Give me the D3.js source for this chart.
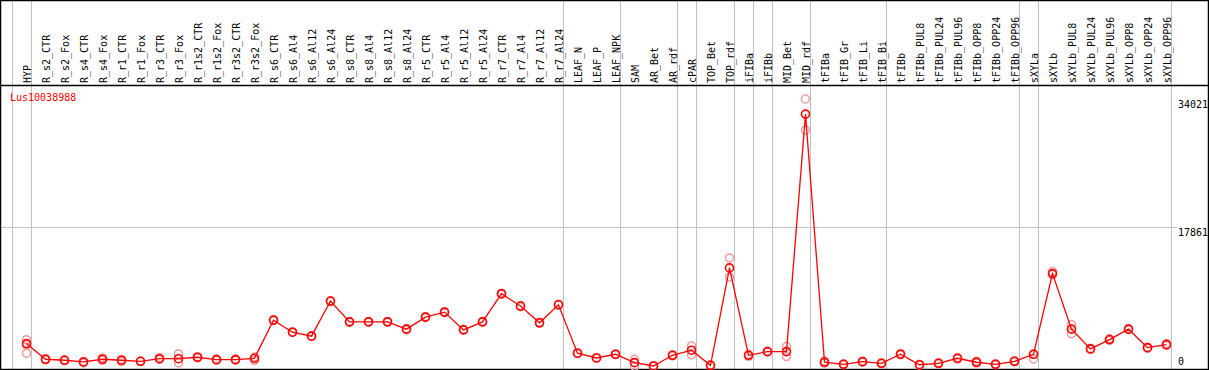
<!DOCTYPE html>
<html>
<head>
<meta charset="utf-8">
<script src="https://cdn.jsdelivr.net/npm/d3@7"></script>
<style>
    html, body { margin: 0; padding: 0; background: #fff; }
    svg { display: block; font-family: "DejaVu Sans Mono", monospace; font-size: 10px; }
</style>
</head>
<body>
<div id="chart"></div>
<script>
    const geneName = 'Lus10038988';

    const samples = ['HYP', 'R_s2_CTR', 'R_s2_Fox', 'R_s4_CTR', 'R_s4_Fox', 'R_r1_CTR', 'R_r1_Fox',
        'R_r3_CTR', 'R_r3_Fox', 'R_r1s2_CTR', 'R_r1s2_Fox', 'R_r3s2_CTR', 'R_r3s2_Fox',
        'R_s6_CTR', 'R_s6_Al4', 'R_s6_Al12', 'R_s6_Al24', 'R_s8_CTR', 'R_s8_Al4', 'R_s8_Al12', 'R_s8_Al24',
        'R_r5_CTR', 'R_r5_Al4', 'R_r5_Al12', 'R_r5_Al24', 'R_r7_CTR', 'R_r7_Al4', 'R_r7_Al12', 'R_r7_Al24',
        'LEAF_N', 'LEAF_P', 'LEAF_NPK', 'SAM', 'AR_Bet', 'AR_rdf', 'cPAR', 'TOP_Bet', 'TOP_rdf',
        'iFIBa', 'iFIBb', 'MID_Bet', 'MID_rdf', 'tFIBa', 'tFIB_Gr', 'tFIB_Li', 'tFIB_Bi',
        'tFIBb', 'tFIBb_PUL8', 'tFIBb_PUL24', 'tFIBb_PUL96', 'tFIBb_OPP8', 'tFIBb_OPP24', 'tFIBb_OPP96',
        'sXYLa', 'sXYLb', 'sXYLb_PUL8', 'sXYLb_PUL24', 'sXYLb_PUL96', 'sXYLb_OPP8', 'sXYLb_OPP24', 'sXYLb_OPP96'];

    // mean expression per sample
    const means = [3200, 1230, 1100, 890, 1230, 1100, 970, 1300, 1300, 1480, 1180, 1180, 1350,
        6160, 4640, 4140, 8560, 5940, 5940, 5940, 5020,
        6540, 7170, 4930, 5940, 9490, 7930, 5820, 8090,
        1990, 1390, 1860, 800, 380, 1730, 2370, 470, 12740,
        1730, 2190, 2190, 32120, 850, 590, 920, 720,
        1860, 540, 720, 1350, 850, 590, 970,
        1860, 12020, 5020, 2530, 3710, 5020, 2690, 3070];

    // replicate values per sample
    const replicates = [[3700, 1990, 3000], [1300, 1150], [1150, 1050], [950, 760], [1400, 1100], [1200, 950], [1000, 950],
        [1450, 1200], [1900, 760], [1550, 1400], [1250, 1100], [1250, 1100], [1500, 1100],
        [6200, 6100], [4700, 4600], [4200, 4100], [8600, 8500], [6000, 5900], [6000, 5900], [6000, 5900], [5100, 4950],
        [6600, 6500], [7200, 7100], [5000, 4900], [6000, 5900], [9550, 9400], [8000, 7850], [5900, 5750], [8150, 8050],
        [2050, 1950], [1450, 1350], [1900, 1800], [1230, 340], [450, 330], [1800, 1650], [2910, 1810], [520, 420], [14000, 11600],
        [1850, 1600], [2250, 2150], [2820, 1560], [34021, 30100], [1000, 750], [650, 550], [1000, 850], [800, 650],
        [1950, 1800], [600, 500], [800, 650], [1450, 1250], [1000, 750], [650, 550], [1050, 900],
        [1860, 1270], [12270, 11900], [5600, 4430], [2600, 2450], [3800, 3600], [5100, 4950], [2750, 2600], [3200, 2950]];

    // index of last sample in each group (vertical separators)
    const groupEnds = [-1, 0, 28, 31, 34, 35, 37, 38, 39, 41, 45, 52, 53, 60];

    const yTicks = [0, 17861, 34021];

    const width = 1209,
        height = 370,
        headerBottom = 85,
        plotBottom = 369,
        grey = '#c0c0c0';

    const x = d3.scaleLinear().domain([0, samples.length - 1]).range([26.5, 26.5 + 19 * (samples.length - 1)]),
        y = d3.scaleLinear().domain([0, d3.max(yTicks)]).range([plotBottom, 99]);

    const svg = d3.select('#chart')
        .append('svg')
        .attr('width', width)
        .attr('height', height);

    // separators
    svg.append('g')
        .selectAll('line')
        .data(groupEnds)
        .join('line')
        .attr('x1', d => Math.round(x(d) + 4) + 0.5)
        .attr('x2', d => Math.round(x(d) + 4) + 0.5)
        .attr('y1', 0)
        .attr('y2', height)
        .attr('stroke', grey)
        .attr('stroke-width', 1);

    // horizontal grid at middle tick
    svg.append('line')
        .attr('x1', 0)
        .attr('x2', 1177)
        .attr('y1', Math.round(y(yTicks[1])) + 0.5)
        .attr('y2', Math.round(y(yTicks[1])) + 0.5)
        .attr('stroke', grey);

    // frame and header line
    svg.append('rect')
        .attr('x', 0.5)
        .attr('y', 0.5)
        .attr('width', width - 1)
        .attr('height', height - 1)
        .attr('fill', 'none')
        .attr('stroke', '#000')
        .attr('stroke-width', 1.5);

    svg.append('line')
        .attr('x1', 0)
        .attr('x2', width)
        .attr('y1', headerBottom + 0.5)
        .attr('y2', headerBottom + 0.5)
        .attr('stroke', '#000')
        .attr('stroke-width', 1.5);

    // sample labels
    svg.append('g')
        .selectAll('text')
        .data(samples)
        .join('text')
        .attr('transform', (d, i) => 'translate(' + (x(i) + 4) + ',' + (headerBottom - 2) + ') rotate(-90)')
        .attr('fill', '#000')
        .text(d => d);

    // y tick labels
    svg.append('g')
        .selectAll('text')
        .data(yTicks)
        .join('text')
        .attr('x', 1178)
        .attr('y', d => d === 0 ? plotBottom - 4 : y(d) + 9)
        .attr('fill', '#000')
        .text(d => d);

    svg.append('text')
        .attr('x', 10)
        .attr('y', 101)
        .attr('fill', 'red')
        .text(geneName);

    // replicate points
    const repPoints = [];
    replicates.forEach((r, i) => r.forEach(v => repPoints.push({i: i, v: v})));

    svg.append('g')
        .selectAll('circle')
        .data(repPoints)
        .join('circle')
        .attr('cx', d => x(d.i))
        .attr('cy', d => y(d.v))
        .attr('r', 4)
        .attr('fill', 'none')
        .attr('stroke', '#f09a9a')
        .attr('stroke-width', 1.5);

    // mean line
    const line = d3.line()
        .x((d, i) => x(i))
        .y(d => y(d));

    svg.append('path')
        .datum(means)
        .attr('d', line)
        .attr('fill', 'none')
        .attr('stroke', 'red')
        .attr('stroke-width', 1.3);

    svg.append('g')
        .selectAll('circle')
        .data(means)
        .join('circle')
        .attr('cx', (d, i) => x(i))
        .attr('cy', d => y(d))
        .attr('r', 4)
        .attr('fill', 'none')
        .attr('stroke', 'red')
        .attr('stroke-width', 1.6);
</script>
</body>
</html>
